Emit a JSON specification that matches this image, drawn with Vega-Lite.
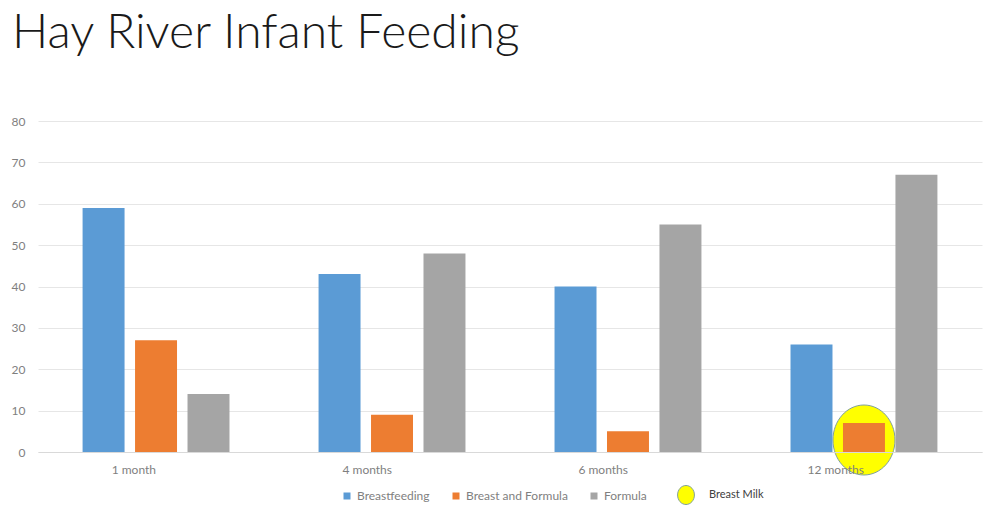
{
  "$schema": "https://vega.github.io/schema/vega-lite/v6.json",
  "autosize": "none",
  "width": 944,
  "height": 331,
  "padding": {"left": 38, "top": 121, "right": 2, "bottom": 58},
  "background": "white",
  "title": {
    "text": "Hay River Infant Feeding",
    "anchor": "start",
    "frame": "group",
    "dx": -26,
    "offset": 57,
    "font": "Lato",
    "fontWeight": 300,
    "fontSize": 48,
    "color": "#1a1a1a"
  },
  "datasets": {
    "feeding": [
      {"month": "1 month", "type": "Breastfeeding", "value": 59},
      {"month": "1 month", "type": "Breast and Formula", "value": 27},
      {"month": "1 month", "type": "Formula", "value": 14},
      {"month": "4 months", "type": "Breastfeeding", "value": 43},
      {"month": "4 months", "type": "Breast and Formula", "value": 9},
      {"month": "4 months", "type": "Formula", "value": 48},
      {"month": "6 months", "type": "Breastfeeding", "value": 40},
      {"month": "6 months", "type": "Breast and Formula", "value": 5},
      {"month": "6 months", "type": "Formula", "value": 55},
      {"month": "12 months", "type": "Breastfeeding", "value": 26},
      {"month": "12 months", "type": "Breast and Formula", "value": 7},
      {"month": "12 months", "type": "Formula", "value": 67}
    ],
    "highlight": [
      {"month": "12 months", "value": 2.9, "label": "Breast Milk"}
    ]
  },
  "config": {
    "view": {"stroke": null},
    "font": "Lato"
  },
  "layer": [
    {
      "data": {"name": "highlight"},
      "mark": {
        "type": "point",
        "filled": true,
        "opacity": 1,
        "shape": "M -0.886 0 A 0.886 1 0 1 1 0.886 0 A 0.886 1 0 1 1 -0.886 0 Z",
        "size": 4900,
        "stroke": "#7f9f9f",
        "strokeWidth": 1
      },
      "encoding": {
        "x": {"field": "month", "type": "nominal"},
        "y": {"field": "value", "type": "quantitative"},
        "fill": {
          "field": "label",
          "type": "nominal",
          "scale": {"range": ["#FFFF00"]},
          "legend": {
            "title": null,
            "orient": "none",
            "legendX": 638,
            "legendY": 364,
            "symbolType": "M -0.886 0 A 0.886 1 0 1 1 0.886 0 A 0.886 1 0 1 1 -0.886 0 Z",
            "symbolSize": 361,
            "symbolStrokeColor": "#7f9f9f",
            "symbolStrokeWidth": 1,
            "labelOffset": 13,
            "labelFont": "Lato",
            "labelFontSize": 11,
            "labelColor": "#404040"
          }
        }
      }
    },
    {
      "data": {"name": "feeding"},
      "mark": {"type": "bar"},
      "encoding": {
        "x": {
          "field": "month",
          "type": "nominal",
          "sort": ["1 month", "4 months", "6 months", "12 months"],
          "scale": {"domain": ["1 month", "4 months", "6 months", "12 months"], "paddingInner": 0.333, "paddingOuter": 0.1667},
          "axis": {
            "title": null,
            "labelAngle": 0,
            "ticks": false,
            "domain": true,
            "domainColor": "#d9d9d9",
            "labelColor": "#7f7f7f",
            "labelFontSize": 12,
            "labelPadding": 17,
            "zindex": 1
          }
        },
        "xOffset": {
          "field": "type",
          "type": "nominal",
          "sort": ["Breastfeeding", "Breast and Formula", "Formula"],
          "scale": {"paddingInner": 0.2, "paddingOuter": 0.1}
        },
        "y": {
          "field": "value",
          "type": "quantitative",
          "scale": {"domain": [0, 80]},
          "axis": {
            "title": null,
            "values": [0, 10, 20, 30, 40, 50, 60, 70, 80],
            "domain": false,
            "ticks": false,
            "gridColor": "#e6e6e6",
            "labelColor": "#7f7f7f",
            "labelFontSize": 12,
            "labelPadding": 13
          }
        },
        "color": {
          "field": "type",
          "type": "nominal",
          "sort": ["Breastfeeding", "Breast and Formula", "Formula"],
          "scale": {"domain": ["Breastfeeding", "Breast and Formula", "Formula"], "range": ["#5B9BD5", "#ED7D31", "#A5A5A5"]},
          "legend": {
            "title": null,
            "orient": "none",
            "direction": "horizontal",
            "legendX": 303,
            "legendY": 369,
            "symbolType": "square",
            "symbolSize": 49,
            "labelOffset": 4,
            "columnPadding": 20,
            "labelFont": "Lato",
            "labelFontSize": 12,
            "labelColor": "#7f7f7f"
          }
        }
      }
    }
  ],
  "resolve": {"scale": {"color": "independent", "fill": "independent"}}
}
